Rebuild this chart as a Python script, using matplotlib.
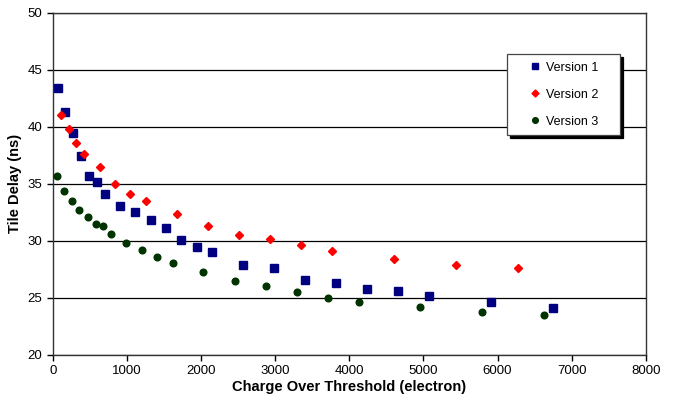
import numpy as np
import matplotlib.pyplot as plt

plt.rcParams['font.family'] = ['Liberation Sans', 'DejaVu Sans']

# Version 1 (blue squares)
v1_x = [67, 160, 270, 378, 486, 594, 700, 904, 1107, 1320, 1525, 1727, 1943, 2146,
        2564, 2982, 3400, 3819, 4238, 4656, 5078, 5911, 6743]
v1_y = [43.4, 41.3, 39.5, 37.4, 35.7, 35.2, 34.1, 33.1, 32.5, 31.8, 31.1, 30.1, 29.5, 29.0,
        27.9, 27.6, 26.6, 26.3, 25.8, 25.6, 25.2, 24.6, 24.1]

# Version 2 (red diamonds)
v2_x = [104, 212, 315, 423, 630, 837, 1048, 1255, 1669, 2092, 2510, 2924, 3347, 3761,
        4597, 5434, 6271]
v2_y = [41.0, 39.8, 38.6, 37.6, 36.5, 35.0, 34.1, 33.5, 32.4, 31.3, 30.5, 30.2, 29.6, 29.1,
        28.4, 27.9, 27.6]

# Version 3 (dark green circles)
v3_x = [50, 153, 256, 360, 472, 576, 679, 783, 989, 1201, 1408, 1615, 2029, 2452, 2870,
        3288, 3707, 4125, 4957, 5794, 6626]
v3_y = [35.7, 34.4, 33.5, 32.7, 32.1, 31.5, 31.3, 30.6, 29.8, 29.2, 28.6, 28.1, 27.3, 26.5,
        26.0, 25.5, 25.0, 24.6, 24.2, 23.8, 23.5]

fig = plt.figure(figsize=(6.77, 4.01), dpi=100)
ax = fig.add_axes([0.078, 0.115, 0.876, 0.853])

ax.plot(v1_x, v1_y, 's', color='#000080', ms=5.3, mec='#000080', label='Version 1    ', zorder=3)
ax.plot(v2_x, v2_y, 'D', color='#ff0000', ms=4.2, mec='#ff0000', label='Version 2    ', zorder=3)
ax.plot(v3_x, v3_y, 'o', color='#003300', ms=4.8, mec='#003300', label='Version 3    ', zorder=3)

ax.set_xlim(0, 8000)
ax.set_ylim(20, 50)
ax.set_xticks(np.arange(0, 8001, 1000))
ax.set_yticks(np.arange(20, 51, 5))
ax.yaxis.grid(True, color='black', linewidth=0.9)
ax.set_axisbelow(True)
for s in ax.spines.values():
    s.set_linewidth(1.0)
    s.set_color('#333333')
ax.tick_params(labelsize=9.5, length=4, direction='out', width=1)

ax.set_xlabel('Charge Over Threshold (electron)', fontsize=10.5, fontweight='bold', labelpad=2)
ax.set_ylabel('Tile Delay (ns)', fontsize=10.5, fontweight='bold', labelpad=4)

leg = ax.legend(loc='upper left', bbox_to_anchor=(0.749, 0.865), bbox_transform=fig.transFigure,
                fontsize=9, frameon=True, fancybox=False, shadow={'color': 'black', 'alpha': 1},
                handletextpad=-0.65, borderpad=0.6, labelspacing=1.2, handlelength=3.2,
                markerscale=0.85, borderaxespad=0)
leg.get_frame().set_edgecolor('#444444')
leg.get_frame().set_linewidth(0.9)

fig.savefig('out.png', dpi=100)
